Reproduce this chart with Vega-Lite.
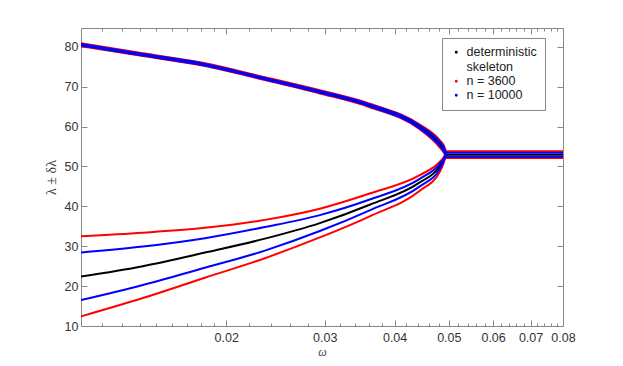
{
  "$schema": "https://vega.github.io/schema/vega-lite/v6.json",
  "width": 482,
  "height": 298,
  "autosize": {"type": "none"},
  "padding": {"left": 81, "top": 28, "right": 60, "bottom": 40},
  "config": {
    "view": {"stroke": "#888", "strokeWidth": 1},
    "axis": {"domain": false, "grid": false, "tickColor": "#888", "labelColor": "#333", "labelFont": "Liberation Sans", "labelFontSize": 12.5, "labelFlush": false, "labelOverlap": false, "titleFont": "Liberation Serif", "titleColor": "#444", "titleFontWeight": "normal"},
    "legend": {"orient": "none", "legendX": 361, "legendY": 10, "strokeColor": "#888", "fillColor": "white", "padding": 8, "labelFont": "Liberation Sans", "labelFontSize": 12.5, "labelColor": "#222", "symbolType": "circle", "symbolSize": 2, "symbolStrokeWidth": 1.5, "rowPadding": 1}
  },
  "datasets": {
    "d": [
      {"b": "up", "w": 0.011, "d": 80.5, "rh": 80.85, "rl": 80.15, "bh": 80.7, "bl": 80.3},
      {"b": "up", "w": 0.01419, "d": 78.0, "rh": 78.35, "rl": 77.65, "bh": 78.2, "bl": 77.8},
      {"b": "up", "w": 0.01832, "d": 75.5, "rh": 75.85, "rl": 75.15, "bh": 75.7, "bl": 75.3},
      {"b": "up", "w": 0.02345, "d": 72.0, "rh": 72.35, "rl": 71.65, "bh": 72.2, "bl": 71.8},
      {"b": "up", "w": 0.0294, "d": 68.7, "rh": 69.1, "rl": 68.3, "bh": 68.92, "bl": 68.48},
      {"b": "up", "w": 0.0361, "d": 65.3, "rh": 65.75, "rl": 64.85, "bh": 65.55, "bl": 65.05},
      {"b": "up", "w": 0.04436, "d": 59.9, "rh": 60.5, "rl": 59.3, "bh": 60.25, "bl": 59.55},
      {"b": "up", "w": 0.04815, "d": 55.7, "rh": 56.6, "rl": 54.8, "bh": 56.2, "bl": 55.2},
      {"b": "up", "w": 0.04895, "d": 54.4, "rh": 55.3, "rl": 53.5, "bh": 54.9, "bl": 53.9},
      {"b": "up", "w": 0.0494, "d": 53.2, "rh": 53.8, "rl": 52.6, "bh": 53.55, "bl": 52.85},
      {"b": "low", "w": 0.011, "d": 22.4, "rh": 32.5, "rl": 12.4, "bh": 28.4, "bl": 16.5},
      {"b": "low", "w": 0.01419, "d": 25.0, "rh": 33.4, "rl": 17.0, "bh": 29.9, "bl": 20.3},
      {"b": "low", "w": 0.01832, "d": 28.4, "rh": 34.6, "rl": 22.1, "bh": 32.0, "bl": 24.6},
      {"b": "low", "w": 0.02345, "d": 31.9, "rh": 36.6, "rl": 27.0, "bh": 34.8, "bl": 28.9},
      {"b": "low", "w": 0.0294, "d": 35.8, "rh": 39.4, "rl": 32.2, "bh": 37.8, "bl": 33.8},
      {"b": "low", "w": 0.0361, "d": 40.4, "rh": 43.2, "rl": 37.5, "bh": 41.7, "bl": 39.0},
      {"b": "low", "w": 0.04436, "d": 46.0, "rh": 47.8, "rl": 43.9, "bh": 46.9, "bl": 45.0},
      {"b": "low", "w": 0.04815, "d": 50.0, "rh": 51.1, "rl": 48.6, "bh": 50.6, "bl": 49.3},
      {"b": "low", "w": 0.04895, "d": 51.7, "rh": 52.3, "rl": 50.9, "bh": 52.0, "bl": 51.3},
      {"b": "low", "w": 0.0494, "d": 52.95, "rh": 53.3, "rl": 52.6, "bh": 53.1, "bl": 52.8},
      {"b": "flat", "w": 0.0494, "d": 52.95, "rh": 53.8, "rl": 52.1, "bh": 53.45, "bl": 52.45},
      {"b": "flat", "w": 0.08, "d": 52.95, "rh": 53.8, "rl": 52.1, "bh": 53.45, "bl": 52.45}
    ]
  },
  "data": {"name": "d"},
  "layer": [
    {
      "transform": [{"fold": ["rh", "rl"], "as": ["k", "v"]}],
      "mark": {"type": "line", "strokeWidth": 2, "clip": true, "interpolate": "monotone"},
      "encoding": {
        "x": {"field": "w", "type": "quantitative", "scale": {"type": "log", "domain": [0.011, 0.08], "nice": false},
              "axis": {"orient": "bottom", "values": [0.02, 0.03, 0.04, 0.05, 0.06, 0.07, 0.08], "format": ".2f", "tickSize": -6, "labelPadding": 11, "title": "ω", "titleFontStyle": "italic", "titleFontSize": 12, "titlePadding": 3}},
        "y": {"field": "v", "type": "quantitative", "scale": {"domain": [10, 84.7], "nice": false, "zero": false},
              "axis": {"orient": "left", "values": [10, 20, 30, 40, 50, 60, 70, 80], "tickSize": -6, "labelPadding": 9, "title": "λ ± δλ", "titleFontSize": 14, "titlePadding": 6}},
        "detail": [{"field": "b"}, {"field": "k"}],
        "color": {"datum": "n = 3600", "type": "nominal",
                  "scale": {"domain": ["deterministic skeleton", "n = 3600", "n = 10000"], "range": ["#000000", "#ff0000", "#0000ff"]},
                  "legend": {"title": null, "labelExpr": "datum.label == 'deterministic skeleton' ? ['deterministic', 'skeleton'] : datum.label"}}
      }
    },
    {
      "mark": {"type": "line", "strokeWidth": 2, "clip": true, "interpolate": "monotone"},
      "encoding": {
        "x": {"field": "w", "type": "quantitative", "scale": {"type": "log", "domain": [0.011, 0.08], "nice": false},
              "axis": {"orient": "bottom", "values": [0.012, 0.013, 0.014, 0.015, 0.016, 0.017, 0.018, 0.019, 0.022, 0.024, 0.026, 0.028, 0.032, 0.034, 0.036, 0.038, 0.042, 0.044, 0.046, 0.048, 0.052, 0.054, 0.056, 0.058, 0.062, 0.064, 0.066, 0.068, 0.072, 0.074, 0.076, 0.078], "labels": false, "tickSize": -3, "title": null}},
        "y": {"field": "d", "type": "quantitative", "scale": {"domain": [10, 84.7], "nice": false, "zero": false},
              "axis": {"orient": "right", "values": [10, 20, 30, 40, 50, 60, 70, 80], "tickSize": -6, "labels": false, "title": null}},
        "detail": {"field": "b"},
        "color": {"datum": "deterministic skeleton", "type": "nominal"}
      }
    },
    {
      "transform": [{"filter": "datum.b == 'up'"}, {"fold": ["bh", "bl"], "as": ["k", "v"]}],
      "mark": {"type": "line", "strokeWidth": 2, "clip": true, "interpolate": "monotone"},
      "encoding": {
        "x": {"field": "w", "type": "quantitative", "scale": {"type": "log", "domain": [0.011, 0.08], "nice": false},
              "axis": {"orient": "top", "values": [0.02, 0.03, 0.04, 0.05, 0.06, 0.07, 0.08], "labels": false, "tickSize": -6, "title": null}},
        "y": {"field": "v", "type": "quantitative", "scale": {"domain": [10, 84.7], "nice": false, "zero": false}, "axis": null},
        "detail": [{"field": "b"}, {"field": "k"}],
        "color": {"datum": "n = 10000", "type": "nominal"}
      }
    },
    {
      "transform": [{"filter": "datum.b != 'up'"}, {"fold": ["bh", "bl"], "as": ["k", "v"]}],
      "mark": {"type": "line", "strokeWidth": 2, "clip": true, "interpolate": "monotone"},
      "encoding": {
        "x": {"field": "w", "type": "quantitative", "scale": {"type": "log", "domain": [0.011, 0.08], "nice": false},
              "axis": {"orient": "top", "values": [0.012, 0.013, 0.014, 0.015, 0.016, 0.017, 0.018, 0.019, 0.022, 0.024, 0.026, 0.028, 0.032, 0.034, 0.036, 0.038, 0.042, 0.044, 0.046, 0.048, 0.052, 0.054, 0.056, 0.058, 0.062, 0.064, 0.066, 0.068, 0.072, 0.074, 0.076, 0.078], "labels": false, "tickSize": -3, "title": null}},
        "y": {"field": "v", "type": "quantitative", "scale": {"domain": [10, 84.7], "nice": false, "zero": false}, "axis": null},
        "detail": [{"field": "b"}, {"field": "k"}],
        "color": {"datum": "n = 10000", "type": "nominal"}
      }
    }
  ],
  "resolve": {"axis": {"x": "independent", "y": "independent"}}
}
